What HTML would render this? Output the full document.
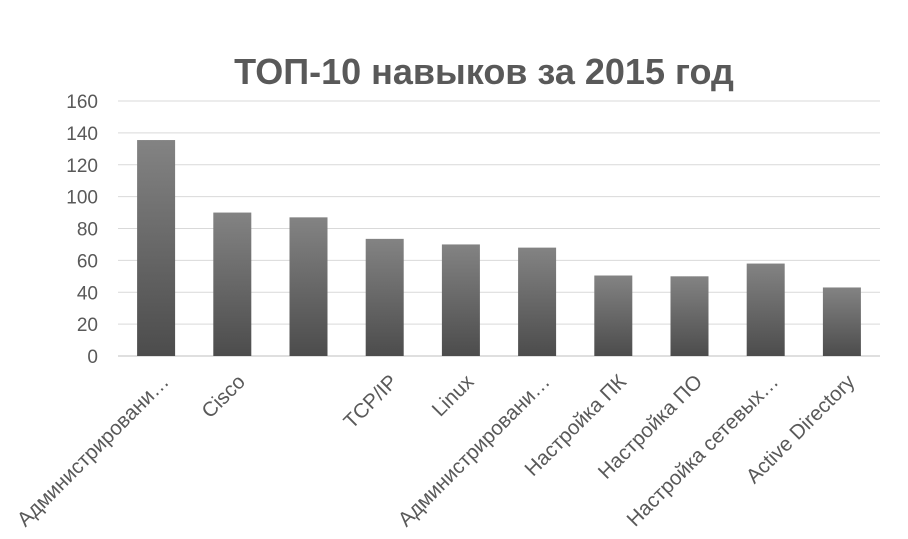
<!DOCTYPE html>
<html><head><meta charset="utf-8"><style>
body{margin:0;background:#fff;}
svg{display:block;font-family:"Liberation Sans","DejaVu Sans",sans-serif;}
</style></head><body>
<svg id="chart" width="908" height="539" viewBox="0 0 908 539">
<defs><linearGradient id="g" x1="0" y1="0" x2="0" y2="1"><stop offset="0" stop-color="#838383"/><stop offset="1" stop-color="#4c4c4c"/></linearGradient></defs>
<text x="484" y="84" text-anchor="middle" font-size="36" font-weight="bold" fill="#595959">ТОП-10 навыков за 2015 год</text>
<g id="grid"></g><g id="bars"></g><g id="labels"></g>
</svg>
<script>
const categories=["Администрировани…","Cisco","","TCP/IP","Linux","Администрировани…","Настройка ПК","Настройка ПО","Настройка сетевых…","Active Directory"];
const values=[135.5,90,87,73.5,70,68,50.5,50,58,43];
const ticks=[0,20,40,60,80,100,120,140,160];
const ns="http://www.w3.org/2000/svg";
const x0=118,x1=880,yB=356,yT=101,maxV=160;
const y=v=>yB-(v/maxV)*(yB-yT);
const step=(x1-x0)/categories.length;
const cx=i=>x0+step*(i+0.5);
const grid=document.getElementById('grid'),bars=document.getElementById('bars'),labels=document.getElementById('labels');
ticks.forEach(t=>{
 const l=document.createElementNS(ns,'line');
 l.setAttribute('x1',x0);l.setAttribute('x2',x1);l.setAttribute('y1',y(t));l.setAttribute('y2',y(t));
 l.setAttribute('stroke',t===0?'#bfbfbf':'#d9d9d9');l.setAttribute('stroke-width','1');
 
 
 grid.appendChild(l);
 const tx=document.createElementNS(ns,'text');
 tx.setAttribute('x',98);tx.setAttribute('y',y(t)+7);tx.setAttribute('text-anchor','end');
 tx.setAttribute('font-size','19');tx.setAttribute('fill','#595959');tx.textContent=t;
 
 
 grid.appendChild(tx);
});
values.forEach((v,i)=>{
 const r=document.createElementNS(ns,'rect');
 r.setAttribute('x',cx(i)-19);r.setAttribute('width',38);r.setAttribute('y',y(v));r.setAttribute('height',yB-y(v));
 r.setAttribute('fill','url(#g)');
 
 
 bars.appendChild(r);
 const tx=document.createElementNS(ns,'text');
 const lx=cx(i)+14,ly=383;
 tx.setAttribute('x',lx);tx.setAttribute('y',ly);tx.setAttribute('text-anchor','end');
 tx.setAttribute('transform','rotate(-45 '+lx+' '+ly+')');
 tx.setAttribute('font-size','20.5');tx.setAttribute('fill','#595959');tx.textContent=categories[i];
 
 
 labels.appendChild(tx);
});
</script>
</body></html>
